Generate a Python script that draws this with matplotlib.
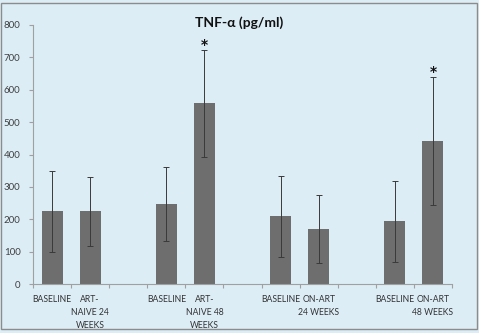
import numpy as np
import matplotlib.pyplot as plt

# TNF-alpha means and SDs, blank slots separate the four comparisons
labels = ["BASELINE", "ART-\nNAIVE 24\nWEEKS", "",
          "BASELINE", "ART-\nNAIVE 48\nWEEKS", "",
          "BASELINE", "ON-ART\n24 WEEKS", "",
          "BASELINE", "ON-ART\n48 WEEKS"]
means = [225, 225, np.nan, 247, 558, np.nan, 209, 170, np.nan, 194, 442]
sds = [125, 107, np.nan, 114, 165, np.nan, 125, 106, np.nan, 125, 198]
significant = [False, False, False, False, True, False, False, False, False, False, True]

bg = "#dcedf6"
plt.rcParams["font.family"] = ["Lato", "DejaVu Sans"]

fig = plt.figure(figsize=(4.79, 3.33), dpi=100, facecolor=bg)
ax = fig.add_axes([33 / 479, 49 / 333, 419 / 479, 259 / 333], facecolor=bg)

x = np.arange(len(labels))
ax.bar(x, means, width=0.55, color="#6e6e6e", zorder=2)
ax.errorbar(x, means, yerr=sds, fmt="none", ecolor="#3a3a3a",
            elinewidth=0.7, capsize=2, capthick=0.7, zorder=3)

for xi, m, s, sig in zip(x, means, sds, significant):
    if sig:
        ax.text(xi, m + s + 14, "*", ha="center", va="center",
                fontsize=10, fontweight="bold", color="#111111",
                family="DejaVu Sans")

ax.set_xlim(-0.5, len(labels) - 0.5)
ax.set_ylim(0, 800)
ax.set_yticks(range(0, 801, 100))
ax.set_xticks(x)
ax.set_xticklabels(labels, fontsize=6.2, color="#333333", linespacing=1.55,
                   va="top")
ax.set_xticks(np.arange(-0.5, len(labels), 1), minor=True)
ax.tick_params(axis="x", which="major", length=0, pad=8)
ax.tick_params(axis="x", which="minor", length=3, color="#a0a0a0", width=0.8)
ax.tick_params(axis="y", length=3, color="#a0a0a0", width=0.8,
               labelsize=7, labelcolor="#404040", pad=6)

for side in ["top", "right"]:
    ax.spines[side].set_visible(False)
for side in ["left", "bottom"]:
    ax.spines[side].set_color("#a0a0a0")
    ax.spines[side].set_linewidth(0.8)

fig.text(0.5, 0.932, "TNF-α (pg/ml)", ha="center", va="center",
         fontsize=10, fontweight="bold", color="#111111")

# thin grey frame round the whole chart area
fig.patches.append(plt.Rectangle((0.002, 0.012), 0.994, 0.98,
                                 transform=fig.transFigure, fill=False,
                                 edgecolor="#8c8c8c", linewidth=1.0))

fig.savefig("out.png", dpi=100, facecolor=bg)
